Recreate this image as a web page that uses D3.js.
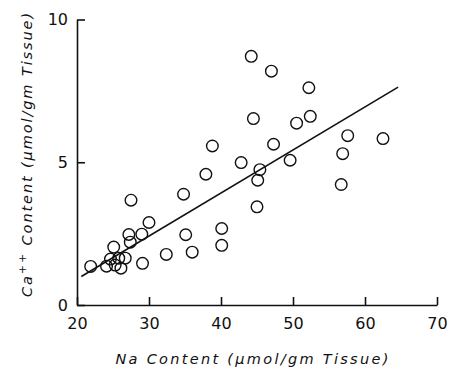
<!DOCTYPE html>
<html>
<head>
<meta charset="utf-8">
<script src="https://cdn.jsdelivr.net/npm/d3@7"></script>
<style>
  html, body { margin: 0; padding: 0; background: #fff; }
  svg { display: block; }
</style>
</head>
<body>
<svg id="chart" width="452" height="368"></svg>
<script>
// Na content (x) and Ca++ content (y), umol/gm tissue
const naContent = [21.9, 24.1, 24.65, 25.1, 25.3, 25.8, 26.1, 26.7, 27.2, 27.4, 27.5,
  29.0, 29.1, 30.0, 32.4, 34.8, 35.1, 36.0, 37.9, 38.8, 40.1, 40.1, 42.8, 44.2, 44.5,
  45.0, 45.1, 45.4, 47.0, 47.3, 49.6, 50.5, 52.2, 52.4, 56.7, 56.9, 57.6, 62.5];
const caContent = [1.35, 1.36, 1.61, 2.03, 1.40, 1.64, 1.29, 1.64, 2.47, 2.20, 3.67,
  2.48, 1.46, 2.89, 1.77, 3.88, 2.46, 1.85, 4.58, 5.57, 2.68, 2.09, 4.99, 8.71, 6.53,
  3.44, 4.37, 4.74, 8.19, 5.63, 5.07, 6.37, 7.61, 6.61, 4.22, 5.30, 5.93, 5.83];
// regression line end points
const fitX = [20.6, 64.6];
const fitY = [1.00, 7.63];

const xTicks = [20, 30, 40, 50, 60, 70];
const yTicks = [0, 5, 10];
const xTitle = "Na Content (\u03bcmol/gm Tissue)";

const svg = d3.select("#chart");
const x = d3.scaleLinear([20, 70], [77, 437]);
const y = d3.scaleLinear([0, 10], [305, 19.5]);
const ink = "#111";
const font = "'DejaVu Sans', sans-serif";

// x axis, ticks pointing inward
const xAxis = d3.axisBottom(x).tickValues(xTicks).tickSize(-8).tickPadding(13).tickSizeOuter(0);
const gx = svg.append("g").attr("transform", `translate(0,${y(0)})`).call(xAxis);
gx.select(".domain").attr("stroke", ink).attr("stroke-width", 1.6);
gx.selectAll(".tick line").attr("stroke", ink).attr("stroke-width", 1.6);
gx.selectAll(".tick text").attr("font-family", font).attr("font-size", 16).attr("fill", ink);

const yAxis = d3.axisLeft(y).tickValues(yTicks).tickSize(-8).tickPadding(9).tickSizeOuter(0);
const gy = svg.append("g").attr("transform", `translate(${x(20)},0)`).call(yAxis);
gy.select(".domain").attr("stroke", ink).attr("stroke-width", 1.6);
gy.selectAll(".tick line").attr("stroke", ink).attr("stroke-width", 1.6);
gy.selectAll(".tick text").attr("font-family", font).attr("font-size", 16).attr("fill", ink);

// fitted line
svg.append("line")
  .attr("x1", x(fitX[0])).attr("y1", y(fitY[0]))
  .attr("x2", x(fitX[1])).attr("y2", y(fitY[1]))
  .attr("stroke", ink).attr("stroke-width", 1.6);

// open circles
svg.append("g").selectAll("circle").data(naContent).join("circle")
  .attr("cx", d => x(d))
  .attr("cy", (d, i) => y(caContent[i]))
  .attr("r", 5.8)
  .attr("fill", "none")
  .attr("stroke", ink)
  .attr("stroke-width", 1.4);

// axis titles
svg.append("text")
  .attr("x", 253).attr("y", 364)
  .attr("text-anchor", "middle")
  .attr("font-family", font).attr("font-style", "italic").attr("font-size", 14.5)
  .attr("letter-spacing", 2.3).attr("fill", ink)
  .text(xTitle);

const yt = svg.append("text")
  .attr("transform", "translate(32,154) rotate(-90)")
  .attr("text-anchor", "middle")
  .attr("font-family", font).attr("font-style", "italic").attr("font-size", 14.5)
  .attr("letter-spacing", 1.9).attr("fill", ink);
yt.append("tspan").text("Ca");
yt.append("tspan").attr("dy", -6).attr("font-size", 11).text("++");
yt.append("tspan").attr("dy", 6).text(" Content (\u03bcmol/gm Tissue)");
</script>
</body>
</html>
